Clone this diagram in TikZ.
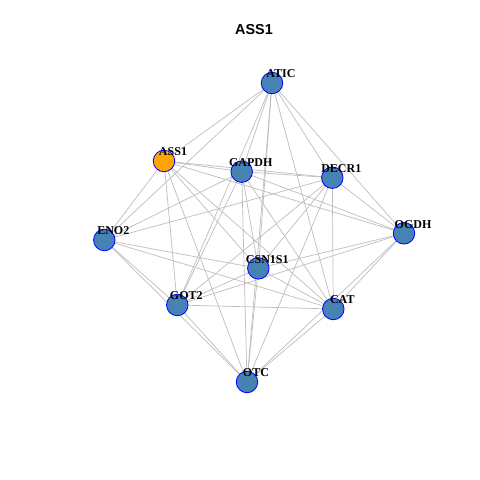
\documentclass[tikz,border=0pt]{standalone}
\usepackage{fontspec}
\setmainfont{Liberation Serif}
\setsansfont{Liberation Sans}
\usetikzlibrary{backgrounds}
\definecolor{steelblue}{RGB}{70,130,180}
\definecolor{hubcol}{RGB}{255,165,0}
\definecolor{edgegrey}{RGB}{190,190,190}
\tikzset{
  gene/.style={circle, draw=blue, line width=0.8pt, fill=steelblue, minimum size=21.5pt, inner sep=0pt},
  hub/.style={gene, fill=hubcol},
  lbl/.style={font=\bfseries\fontsize{12}{12}\selectfont, inner sep=0pt},
  edge/.style={draw=edgegrey, line width=0.7pt}
}
\begin{document}
\begin{tikzpicture}[x=1pt,y=-1pt]
    \useasboundingbox (0,0) rectangle (480,480);
    \node[font=\sffamily\bfseries\fontsize{14.4}{14.4}\selectfont] (title) at (254,30) {ASS1};
    % genes
    \node[hub]  (ass1)   at (164,161) {};
    \node[gene] (atic)   at (272,83)  {};
    \node[gene] (gapdh)  at (241.7,171.7) {};
    \node[gene] (decr1)  at (332.3,177.7) {};
    \node[gene] (eno2)   at (104.3,240) {};
    \node[gene] (ogdh)   at (404,233.3) {};
    \node[gene] (csn1s1) at (258.3,268.3) {};
    \node[gene] (got2)   at (177.3,305) {};
    \node[gene] (cat)    at (333.3,309) {};
    \node[gene] (otc)    at (247,382) {};
    % labels
    \foreach \n/\t in {ass1/ASS1, atic/ATIC, gapdh/GAPDH, decr1/DECR1, eno2/ENO2,
                       ogdh/OGDH, csn1s1/CSN1S1, got2/GOT2, cat/CAT, otc/OTC}
      \node[lbl] (\n-lbl) at ([shift={(9pt,9pt)}]\n.center) {\t};
    % edges
    \begin{scope}[on background layer]
      \fill[white] (0,0) rectangle (480,480);
      \foreach \a/\b in {ass1/atic, ass1/gapdh, ass1/decr1, ass1/eno2, ass1/ogdh, ass1/csn1s1, ass1/got2, ass1/cat, ass1/otc,
                         atic/gapdh, atic/decr1, atic/eno2, atic/ogdh, atic/csn1s1, atic/got2, atic/cat, atic/otc,
                         gapdh/decr1, gapdh/eno2, gapdh/ogdh, gapdh/csn1s1, gapdh/got2, gapdh/cat, gapdh/otc,
                         decr1/eno2, decr1/ogdh, decr1/csn1s1, decr1/got2, decr1/cat, decr1/otc,
                         eno2/csn1s1, eno2/got2, eno2/cat, eno2/otc,
                         ogdh/csn1s1, ogdh/got2, ogdh/cat, ogdh/otc,
                         csn1s1/got2, csn1s1/cat, csn1s1/otc,
                         got2/cat, got2/otc,
                         cat/otc}
        \draw[edge] (\a.center) -- (\b.center);
    \end{scope}
\end{tikzpicture}
\end{document}
